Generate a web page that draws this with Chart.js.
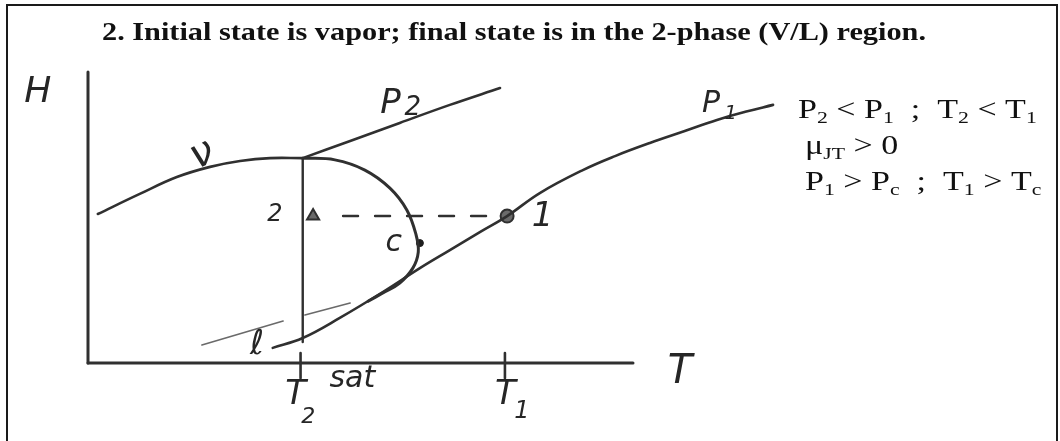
<!DOCTYPE html>
<html>
<head>
<meta charset="utf-8">
<script src="https://cdn.jsdelivr.net/npm/chart.js@4.4.1/dist/chart.umd.min.js"></script>
<style>
  html, body { margin: 0; padding: 0; background: #fff; }
  #wrap { position: relative; width: 1060px; height: 441px; overflow: hidden; }
  #frame { position: absolute; left: 6px; top: 4px; width: 1052px; height: 440px;
           border: 2px solid #1a1a1a; border-bottom: none; box-sizing: border-box; pointer-events: none; }
  canvas { display: block; }
</style>
</head>
<body>
<div id="wrap">
  <canvas id="chart" width="1060" height="441"></canvas>
  <div id="frame"></div>
</div>
<script>
// H–T sketch of a Joule–Thomson throttling: vapor at state 1 (on P1) ends
// in the two-phase region at state 2 (on P2).  Abstract units: the drawn
// axes run from 0 to 100 in both T and H.

// Vapor branch of the P2 isobar, up to the saturated-vapor point
const vaporT = [1.8, 9.5, 16.3, 22.4, 27.9, 33.4, 39.4];
const vaporH = [51.2, 58.1, 63.9, 67.4, 69.4, 70.4, 70.4];

// Superheated continuation of the P2 isobar
const p2T = [39.4, 48.1, 57.2, 66.4, 75.6];
const p2H = [70.4, 76.3, 82.5, 88.7, 94.5];

// Saturation dome (through the critical point c), closing onto P1
const domeT = [39.4, 45.3, 50.8, 55.4, 58.5, 60.2, 60.6, 59.6, 57.2, 54.1, 51.4];
const domeH = [70.4, 69.8, 66.3, 60.1, 52.6, 44.0, 38.1, 32.6, 27.5, 24.1, 21.2];

// Two-phase segment of P2 at T2sat
const tieT = [39.4, 39.4];
const tieH = [70.4, 7.2];

// Supercritical isobar P1
const p1T = [33.9, 39.4, 46.2, 54.1, 60.9, 66.4, 71.9, 76.9, 82.9, 90.8, 96.7, 103.1, 109.5, 115.4, 120.6, 125.7];
const p1H = [5.2, 8.6, 15.5, 24.4, 32.6, 38.8, 45.0, 50.5, 58.4, 66.3, 71.1, 75.6, 79.7, 83.5, 86.3, 88.7];

// Liquid branch of P2 (faint strokes, broken by the "l" label)
const liqAT = [20.9, 35.8];
const liqAH = [6.2, 14.4];
const liqBT = [39.8, 48.1];
const liqBH = [16.5, 20.6];

// States and the critical point
const state1 = { T: 76.9, H: 50.5 };
const state2 = { T: 41.3, H: 50.5 };
const critical = { T: 60.9, H: 41.2 };

// Temperature marks on the T axis (T2sat, T1)
const tickT = [39.0, 76.5];
const tickH = [3.4, -5.2];

// Axes: drawn length and the wider view that keeps the P1 tail visible
const axisMax = 100;
const viewMaxT = 130;

const pts = (ts, hs) => ts.map((t, i) => ({ x: t, y: hs[i] }));
const ink = '#303030';

function curve(data, width, extra) {
  return Object.assign({
    data, showLine: true, borderColor: ink, borderWidth: width,
    pointRadius: 0, tension: 0.4, clip: false, fill: false
  }, extra || {});
}

const datasets = [
  curve([{ x: 0, y: 0 }, { x: 0, y: axisMax }], 3, { tension: 0 }),
  curve([{ x: 0, y: 0 }, { x: axisMax, y: 0 }], 3, { tension: 0 }),
  curve(pts(vaporT, vaporH), 2.6),
  curve(pts(p2T, p2H), 2.6),
  curve(pts(domeT, domeH), 3),
  curve(pts(tieT, tieH), 2.4, { tension: 0 }),
  curve(pts(p1T, p1H), 2.6),
  curve(pts(liqAT, liqAH), 1.6, { borderColor: '#6a6a6a', tension: 0 }),
  curve(pts(liqBT, liqBH), 1.6, { borderColor: '#6a6a6a', tension: 0 }),
  curve([{ x: state2.T + 5.5, y: state2.H }, { x: state1.T - 1.5, y: state1.H }], 2.4,
        { tension: 0, borderDash: [15, 17] }),
  curve([{ x: tickT[0], y: tickH[0] }, { x: tickT[0], y: tickH[1] }], 2.6, { tension: 0 }),
  curve([{ x: tickT[1], y: tickH[0] }, { x: tickT[1], y: tickH[1] }], 2.6, { tension: 0 }),
  { data: [{ x: state1.T, y: state1.H }], showLine: false, clip: false,
    pointRadius: 6.5, pointBackgroundColor: '#6b6b6b', pointBorderColor: ink, pointBorderWidth: 2 },
  { data: [{ x: state2.T, y: state2.H }], showLine: false, clip: false, pointStyle: 'triangle',
    pointRadius: 7, pointBackgroundColor: '#6a6a6a', pointBorderColor: ink, pointBorderWidth: 2 },
  { data: [{ x: critical.T, y: critical.H }], showLine: false, clip: false,
    pointRadius: 3.5, pointBackgroundColor: '#1e1e1e', pointBorderColor: '#1e1e1e', pointBorderWidth: 1 }
];

// Hand-lettered labels placed in data units
const hand = '"DejaVu Sans"';
const sketchLabels = [
  { text: 'H', T: -9.2, H: 92.8, size: 36 },
  { text: 'T', T: 108.6, H: -3.3, size: 40 },
  { text: '2', T: 34.3, H: 50.9, size: 24 },
  { text: 'c', T: 56.1, H: 41.0, size: 30 },
  { text: '1', T: 83.4, H: 50.0, size: 34 },
  { text: 'ℓ', T: 31.0, H: 6.0, size: 34 },
  { text: 'ν', T: 21.0, H: 71.5, size: 40, rot: -0.45 },
  { text: 'sat', T: 48.5, H: -5.7, size: 30 },
  { text: 'T', T: 38.1, H: -10.9, size: 34 },
  { text: '2', T: 40.4, H: -18.8, size: 22 },
  { text: 'T', T: 76.6, H: -10.9, size: 34 },
  { text: '1', T: 79.6, H: -16.6, size: 24 },
  { text: 'P', T: 55.5, H: 88.8, size: 34 },
  { text: '2', T: 59.6, H: 87.6, size: 26 },
  { text: 'P', T: 114.3, H: 88.8, size: 30 },
  { text: '1', T: 117.9, H: 85.8, size: 20 }
];

// Typeset notes (serif, with subscripts)
const notes = [
  { x: 798, y: 118, parts: [['P'], ['2', 1], [' < P'], ['1', 1], ['  ;  T'], ['2', 1], [' < T'], ['1', 1]] },
  { x: 805, y: 154, parts: [['μ'], ['JT', 1], [' > 0']] },
  { x: 805, y: 190, parts: [['P'], ['1', 1], [' > P'], ['c', 1], ['  ;  T'], ['1', 1], [' > T'], ['c', 1]] }
];
const titleText = '2. Initial state is vapor; final state is in the 2-phase (V/L) region.';
const titleStretch = 1.165;
const noteStretch = 1.26;

const textPlugin = {
  id: 'sketchText',
  afterDatasetsDraw(chart) {
    const { ctx, scales: { x, y } } = chart;
    ctx.save();
    ctx.fillStyle = '#262626';
    ctx.textAlign = 'center';
    ctx.textBaseline = 'middle';
    for (const l of sketchLabels) {
      ctx.save();
      ctx.translate(x.getPixelForValue(l.T), y.getPixelForValue(l.H));
      if (l.rot) ctx.rotate(l.rot);
      ctx.font = 'italic ' + l.size + 'px ' + hand;
      ctx.fillText(l.text, 0, 0);
      ctx.restore();
    }

    // title
    ctx.fillStyle = '#111';
    ctx.textAlign = 'left';
    ctx.textBaseline = 'alphabetic';
    ctx.save();
    ctx.translate(102, 40);
    ctx.scale(titleStretch, 1);
    ctx.font = 'bold 26px "Liberation Serif"';
    ctx.fillText(titleText, 0, 0);
    ctx.restore();

    // notes
    const size = 27;
    for (const n of notes) {
      ctx.save();
      ctx.translate(n.x, n.y);
      ctx.scale(noteStretch, 1);
      let cx = 0;
      for (const [t, sub] of n.parts) {
        const fs = sub ? size * 0.64 : size;
        ctx.font = fs + 'px "Liberation Serif"';
        ctx.fillText(t, cx, sub ? size * 0.2 : 0);
        cx += ctx.measureText(t).width;
      }
      ctx.restore();
    }
    ctx.restore();
  }
};

new Chart(document.getElementById('chart'), {
  type: 'scatter',
  data: { datasets },
  options: {
    responsive: false,
    animation: false,
    layout: { padding: { left: 88, top: 72, right: 263.5, bottom: 78 } },
    plugins: { legend: { display: false }, tooltip: { enabled: false }, title: { display: false } },
    elements: { line: { borderCapStyle: 'round', borderJoinStyle: 'round' } },
    scales: {
      x: { type: 'linear', min: 0, max: viewMaxT, display: false },
      y: { type: 'linear', min: 0, max: axisMax, display: false }
    }
  },
  plugins: [textPlugin]
});
</script>
</body>
</html>
